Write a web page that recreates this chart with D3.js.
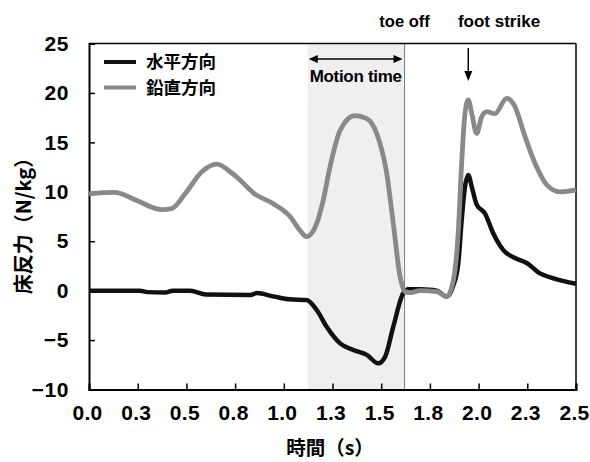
<!DOCTYPE html>
<html>
<head>
<meta charset="utf-8">
<script src="https://cdn.jsdelivr.net/npm/d3@7/dist/d3.min.js"></script>
<style>
  html, body { margin: 0; padding: 0; background: #fff; }
  svg { display: block; }
  .num { font-family: "Liberation Sans", Arial, sans-serif; font-weight: bold; }
  .jp { font-family: "Noto Sans CJK JP", "Noto Sans CJK SC", sans-serif; font-weight: bold; }
</style>
</head>
<body>
<svg id="chart" width="590" height="462"></svg>
<script>
// ---- data ----
const seriesNames = ["水平方向", "鉛直方向"];

// 鉛直方向 (vertical)
const timeV = [0, 0.133, 0.236, 0.373, 0.424, 0.493, 0.578, 0.656, 0.733, 0.775, 0.843, 0.946, 1.032, 1.083, 1.117,
  1.169, 1.203, 1.237, 1.289, 1.365, 1.426, 1.477, 1.528, 1.562, 1.597, 1.622, 1.65, 1.699, 1.785, 1.836,
  1.870, 1.896, 1.913, 1.930, 1.947, 1.965, 1.990, 2.016, 2.042, 2.084, 2.144, 2.187, 2.238, 2.298, 2.350, 2.418, 2.5];
const vertical = [9.8, 9.95, 9.2, 8.2, 8.3, 9.8, 12.0, 12.8, 11.9, 11.2, 9.9, 8.8, 7.5, 6.1, 5.45,
  6.8, 9.2, 12.5, 16.2, 17.7, 17.4, 15.9, 11.9, 6.8, 1.4, -0.1, -0.2, 0, -0.1, -0.6,
  1.0, 6.1, 12.9, 17.9, 19.3, 17.9, 15.9, 17.6, 18.1, 17.9, 19.45, 18.6, 15.6, 12.5, 10.7, 10.0, 10.2];

// 水平方向 (horizontal)
const timeH = [0, 0.26, 0.3, 0.39, 0.43, 0.52, 0.6, 0.83, 0.86, 0.95, 1.03, 1.117, 1.169, 1.22, 1.289, 1.357,
  1.426, 1.485, 1.52, 1.562, 1.613, 1.64, 1.70, 1.785, 1.836, 1.870, 1.896, 1.913, 1.930, 1.947, 1.965,
  1.990, 2.033, 2.075, 2.127, 2.187, 2.247, 2.315, 2.384, 2.5];
const horizontal = [0, 0, -0.15, -0.2, 0, 0, -0.4, -0.45, -0.25, -0.6, -0.88, -0.95, -1.96, -3.65, -5.33, -6.0,
  -6.5, -7.35, -6.7, -3.65, -0.27, 0.15, 0.13, 0, -0.6, 0.5, 2.8, 7.1, 10.5, 11.7, 10.5,
  8.7, 7.8, 5.8, 4.1, 3.3, 2.8, 1.75, 1.25, 0.7];

const xTickValues = [0, 0.25, 0.5, 0.75, 1.0, 1.25, 1.5, 1.75, 2.0, 2.25, 2.5];
const xTickLabels = ["0.0", "0.3", "0.5", "0.8", "1.0", "1.3", "1.5", "1.8", "2.0", "2.3", "2.5"];
const yTickValues = [-10, -5, 0, 5, 10, 15, 20, 25];

const motionStart = 1.123, toeOff = 1.62, footStrike = 1.947;

// ---- chart ----
const svg = d3.select("#chart");
const L = 89, R = 576, T = 43.5, B = 389.5;
const x = d3.scaleLinear().domain([0, 2.5]).range([L, R]);
const y = d3.scaleLinear().domain([-10, 25]).range([B, T]);

// shaded motion region
svg.append("rect")
  .attr("x", x(motionStart)).attr("y", T)
  .attr("width", x(toeOff) - x(motionStart)).attr("height", B - T)
  .attr("fill", "#efefef");

// toe off dotted line
svg.append("line")
  .attr("x1", x(toeOff)).attr("x2", x(toeOff)).attr("y1", T).attr("y2", B)
  .attr("stroke", "#000").attr("stroke-width", 1).attr("stroke-dasharray", "1,1");

// frame top/right
svg.append("line").attr("x1", L).attr("x2", R).attr("y1", T).attr("y2", T).attr("stroke", "#000").attr("stroke-width", 1.5);
svg.append("line").attr("x1", R).attr("x2", R).attr("y1", T).attr("y2", B).attr("stroke", "#000").attr("stroke-width", 1.5);

// axes
const yAxis = d3.axisLeft(y).tickValues(yTickValues).tickSize(-6).tickPadding(20).tickFormat(d3.format("d"));
const gy = svg.append("g").attr("transform", `translate(${L},0)`).call(yAxis);
gy.select(".domain").attr("stroke-width", 2);
gy.selectAll(".tick line").attr("stroke-width", 1.5);
gy.selectAll("text").attr("class", "num").attr("font-size", 21).attr("letter-spacing", "0.6").attr("fill", "#000");

const xAxis = d3.axisBottom(x).tickValues(xTickValues).tickSize(-6).tickPadding(16)
  .tickFormat((d, i) => xTickLabels[i]);
const gx = svg.append("g").attr("transform", `translate(0,${B})`).call(xAxis);
gx.select(".domain").attr("stroke-width", 2);
gx.selectAll(".tick line").attr("stroke-width", 1.5);
gx.selectAll("text").attr("class", "num").attr("font-size", 21).attr("letter-spacing", "0.3")
  .attr("dx", -2).attr("fill", "#000");
svg.selectAll(".domain").attr("stroke", "#000");

// lines
const line = d3.line().curve(d3.curveMonotoneX);
svg.append("path")
  .attr("d", line(timeH.map((t, i) => [x(t), y(horizontal[i])])))
  .attr("fill", "none").attr("stroke", "#111").attr("stroke-width", 4.5).attr("stroke-linejoin", "round");
svg.append("path")
  .attr("d", line(timeV.map((t, i) => [x(t), y(vertical[i])])))
  .attr("fill", "none").attr("stroke", "#898989").attr("stroke-width", 4.8).attr("stroke-linejoin", "round");

// legend
const legendColors = ["#111", "#898989"];
seriesNames.forEach((name, i) => {
  const ly = 62 + i * 25.5;
  svg.append("line").attr("x1", 104).attr("x2", 136).attr("y1", ly).attr("y2", ly)
    .attr("stroke", legendColors[i]).attr("stroke-width", 4);
  svg.append("text").attr("class", "jp").attr("x", 146).attr("y", ly).attr("dy", "0.36em")
    .attr("font-size", 17.5).attr("fill", "#000").text(name);
});

// motion time arrow
const ay = 59;
const ax1 = x(motionStart) + 1, ax2 = x(toeOff) - 2;
svg.append("line").attr("x1", ax1 + 6).attr("x2", ax2 - 6).attr("y1", ay).attr("y2", ay).attr("stroke", "#000").attr("stroke-width", 1.5);
svg.append("path").attr("d", `M${ax1},${ay} L${ax1 + 9},${ay - 4} L${ax1 + 9},${ay + 4} Z`).attr("fill", "#000");
svg.append("path").attr("d", `M${ax2},${ay} L${ax2 - 9},${ay - 4} L${ax2 - 9},${ay + 4} Z`).attr("fill", "#000");
svg.append("text").attr("class", "num").attr("x", (ax1 + ax2) / 2).attr("y", 82)
  .attr("text-anchor", "middle").attr("font-size", 17).attr("letter-spacing", "-0.3").attr("fill", "#000").text("Motion time");

// toe off / foot strike labels
svg.append("text").attr("class", "num").attr("x", x(toeOff)).attr("y", 27)
  .attr("text-anchor", "middle").attr("font-size", 16.5).attr("fill", "#000").text("toe off");
svg.append("text").attr("class", "num").attr("x", 499).attr("y", 27)
  .attr("text-anchor", "middle").attr("font-size", 17).attr("fill", "#000").text("foot strike");

// foot strike arrow
const fx = x(footStrike);
svg.append("line").attr("x1", fx).attr("x2", fx).attr("y1", 48).attr("y2", 72).attr("stroke", "#000").attr("stroke-width", 1.5);
svg.append("path").attr("d", `M${fx},${81} L${fx - 4},${71} L${fx + 4},${71} Z`).attr("fill", "#000");

// axis titles
svg.append("text").attr("class", "jp").attr("x", 330).attr("y", 455)
  .attr("text-anchor", "middle").attr("font-size", 19.5).attr("fill", "#000").text("時間（s）");
svg.append("text").attr("class", "jp")
  .attr("transform", "translate(31,221) rotate(-90)")
  .attr("text-anchor", "middle").attr("font-size", 20).attr("fill", "#000").text("床反力（N/kg）");
</script>
</body>
</html>
